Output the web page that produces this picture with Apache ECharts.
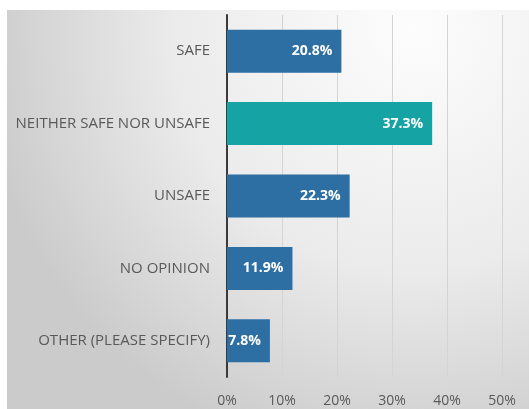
<!DOCTYPE html>
<html>
<head>
<meta charset="utf-8">
<script src="https://cdn.jsdelivr.net/npm/echarts@6/dist/echarts.min.js"></script>
<style>
  html, body { margin: 0; padding: 0; background: #fff; }
  #chart { width: 529px; height: 409px; }
</style>
</head>
<body>
<div id="chart"></div>
<script>
// categories top to bottom
const categories = ['SAFE', 'NEITHER SAFE NOR UNSAFE', 'UNSAFE', 'NO OPINION', 'OTHER (PLEASE SPECIFY)'];
const values = [20.8, 37.3, 22.3, 11.9, 7.8];
const highlightIndex = 1;

const chart = echarts.init(document.getElementById('chart'));

const option = {
  animation: false,
  graphic: [{
    type: 'rect',
    left: 7, top: 10,
    shape: { width: 522, height: 399 },
    z: -10,
    silent: true,
    style: {
      fill: new echarts.graphic.RadialGradient(0.78, 0.05, 1.1, [
        { offset: 0, color: '#fdfdfd' },
        { offset: 0.55, color: '#ebebeb' },
        { offset: 1, color: '#cbcbcb' }
      ])
    }
  }],
  grid: { left: 227, right: 27, top: 15, bottom: 32 },
  xAxis: {
    type: 'value',
    min: 0, max: 50, interval: 10,
    axisLine: { show: false },
    axisTick: { show: false },
    splitLine: { lineStyle: { color: '#d4d4d4', width: 1 } },
    axisLabel: {
      formatter: '{value}%',
      color: '#595959',
      fontFamily: 'Open Sans',
      fontSize: 14,
      margin: 17
    }
  },
  yAxis: {
    type: 'category',
    inverse: true,
    data: categories,
    axisLine: { lineStyle: { color: '#3a3a3a', width: 2 } },
    axisTick: { show: false },
    axisLabel: {
      color: '#595959',
      fontFamily: 'Open Sans',
      fontSize: 15,
      margin: 17
    }
  },
  series: [{
    type: 'bar',
    barWidth: 43,
    data: values.map((v, i) => ({
      value: v,
      itemStyle: { color: i === highlightIndex ? '#16a3a4' : '#2d6fa3' }
    })),
    label: {
      show: true,
      position: 'insideRight',
      distance: 9,
      formatter: p => p.value.toFixed(1) + '%',
      color: '#fff',
      fontWeight: 'bold',
      fontFamily: 'Open Sans',
      fontSize: 14
    }
  }]
};

chart.setOption(option);
</script>
</body>
</html>
